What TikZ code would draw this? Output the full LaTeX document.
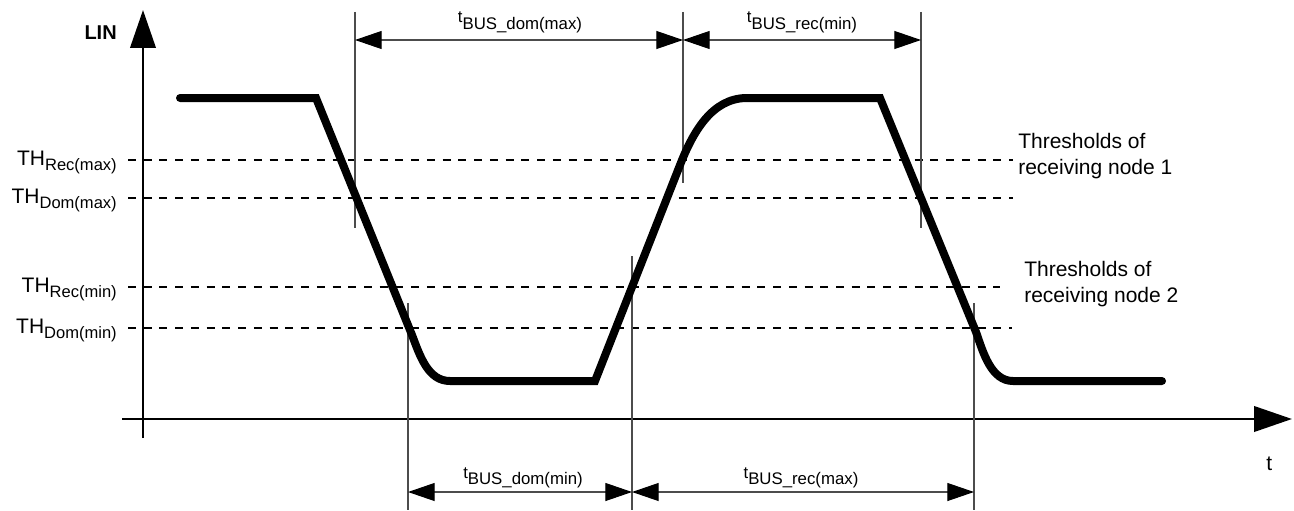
\documentclass[tikz,border=0pt]{standalone}
\usepackage{fontspec}
\setmainfont{Liberation Sans}
\usetikzlibrary{arrows.meta}
\newcommand\thlab[1]{TH\raisebox{-3.9pt}{\fontsize{12.4}{14}\selectfont #1}}
\newcommand\tblab[1]{{\fontsize{12.5}{14}\selectfont t}\raisebox{-5pt}{\fontsize{12.6}{15}\selectfont BUS\_#1}}
\begin{document}
\begin{tikzpicture}[x=0.75pt,y=-0.75pt,
  sig/.style={line width=6pt,line cap=round,line join=miter},
  axis/.style={line width=2.2pt,-{Triangle[length=28.5pt,width=19pt]}},
  thr/.style={line width=1.6pt,dash pattern=on 6pt off 5.8pt},
  vmark/.style={line width=0.8pt,black!70},
  dim/.style={line width=0.8pt,black!70,{Triangle[length=20pt,width=13.5pt,color=black]}-{Triangle[length=20pt,width=13.5pt,color=black]}},
  lbl/.style={font=\fontsize{15.75}{19.5}\selectfont,inner sep=0pt},
]
\useasboundingbox (0,0) rectangle (1294,510);

% axes
\coordinate (yb) at (143,438);
\coordinate (yt) at (143,10);
\coordinate (xl) at (122,419);
\coordinate (xr) at (1292,419);
\draw[axis] (yb) -- (yt);
\draw[axis] (xl) -- (xr);
\node[lbl,font=\fontsize{15}{17}\selectfont\bfseries,anchor=base east] (lin) at (117,40) {LIN};
\node[lbl,anchor=base west] (tax) at (1266,470) {t};

% threshold lines
\node[lbl,anchor=base east] (threcmax) at (117,165) {\thlab{Rec(max)}};
\node[lbl,anchor=base east] (thdommax) at (117,203) {\thlab{Dom(max)}};
\node[lbl,anchor=base east] (threcmin) at (117,292) {\thlab{Rec(min)}};
\node[lbl,anchor=base east] (thdommin) at (117,333) {\thlab{Dom(min)}};
\coordinate (a1) at (128,160); \coordinate (a2) at (1013,160);
\coordinate (b1) at (128,198); \coordinate (b2) at (1013,198);
\coordinate (c1) at (128,287); \coordinate (c2) at (1000,287);
\coordinate (d1) at (128,328); \coordinate (d2) at (1012,328);
\draw[thr] (a1) -- (a2);
\draw[thr] (b1) -- (b2);
\draw[thr] (c1) -- (c2);
\draw[thr] (d1) -- (d2);
\node[lbl,anchor=base west,align=left] (node1) at (1018,174) {Thresholds of\\receiving node 1};
\node[lbl,anchor=base west,align=left] (node2) at (1024,302) {Thresholds of\\receiving node 2};

% vertical markers
\coordinate (v1t) at (355,12);  \coordinate (v1b) at (355,228);
\coordinate (v2t) at (683,12);  \coordinate (v2b) at (683,183);
\coordinate (v3t) at (921,12);  \coordinate (v3b) at (921,228);
\coordinate (w1t) at (408,303); \coordinate (w1b) at (408,510);
\coordinate (w2t) at (632,256); \coordinate (w2b) at (632,510);
\coordinate (w3t) at (974,303); \coordinate (w3b) at (974,510);
\foreach \p in {v1,v2,v3,w1,w2,w3} \draw[vmark] (\p t) -- (\p b);

% dimension arrows
\coordinate (u1) at (355,40); \coordinate (u2) at (683,40); \coordinate (u3) at (921,40);
\coordinate (l1) at (408,492); \coordinate (l2) at (632,492); \coordinate (l3) at (974,492);
\draw[dim] (u1) -- (u2);
\draw[dim] (u2) -- (u3);
\draw[dim] (l1) -- (l2);
\draw[dim] (l2) -- (l3);
\node[lbl,anchor=base] (tdmax) at (520,23) {\tblab{dom(max)}};
\node[lbl,anchor=base] (trmin) at (802,23) {\tblab{rec(min)}};
\node[lbl,anchor=base] (tdmin) at (523,478) {\tblab{dom(min)}};
\node[lbl,anchor=base] (trmax) at (801,478) {\tblab{rec(max)}};

% signal
\coordinate (s0) at (180,98);
\coordinate (s1) at (316,98);
\coordinate (s2) at (412,335);
\coordinate (s3) at (450,381);
\coordinate (s4) at (595,381);
\coordinate (s5) at (680,165);
\coordinate (s6) at (747,98);
\coordinate (s7) at (880,98);
\coordinate (s8) at (976,332);
\coordinate (s9) at (1013,381);
\coordinate (s10) at (1162,381);
\draw[sig] (s0) -- (s1) -- (s2) .. controls (420,356) and (428,381) .. (s3)
  -- (s4) -- (s5) .. controls (693,132) and (712,98) .. (s6)
  -- (s7) -- (s8) .. controls (983,352) and (991,381) .. (s9) -- (s10);
\end{tikzpicture}
\end{document}
